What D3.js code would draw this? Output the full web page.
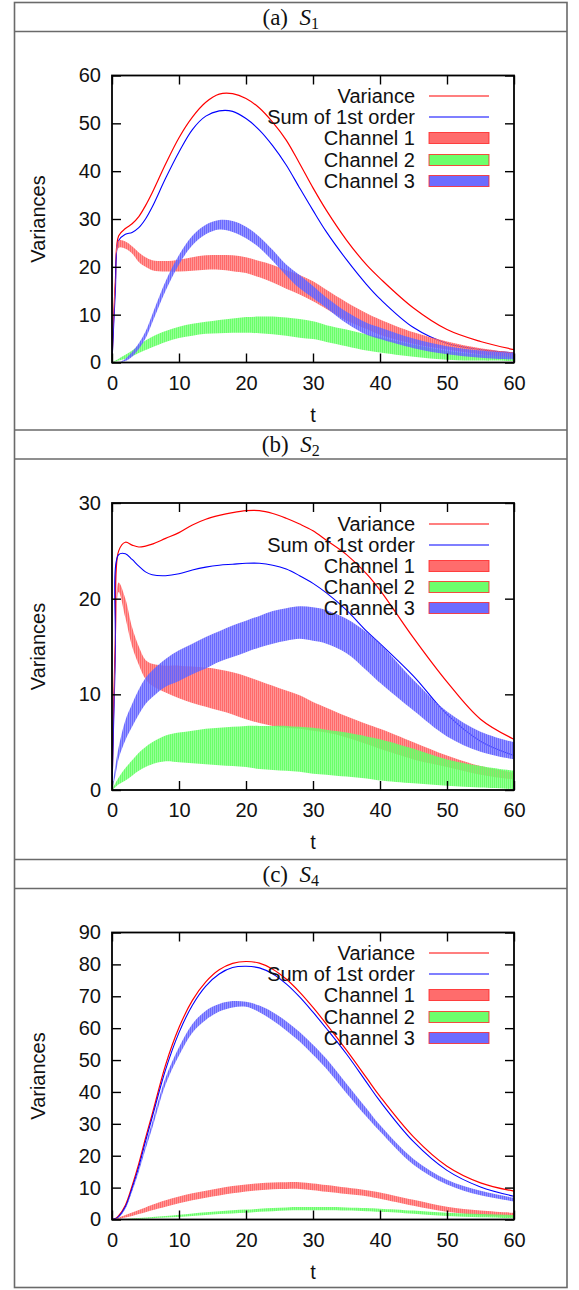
<!DOCTYPE html>
<html>
<head>
<meta charset="utf-8">
<script src="https://cdn.jsdelivr.net/npm/d3@7"></script>
<style>
  body { margin: 0; background: #fff; }
  svg { display: block; }
  .tick text { font-family: "Liberation Sans", Arial, sans-serif; font-size: 20px; fill: #111; }
</style>
</head>
<body>
<svg id="chart" width="579" height="1290"></svg>
<script>
// Time samples shared by all three panels
const tValues = [0, 0.5, 1, 2, 3, 4, 5, 6, 8, 10, 12, 14, 16, 18, 20, 22, 24, 26, 28, 30, 32, 35, 38, 40, 45, 50, 55, 60];

// (a) S1
const varianceA = [0, 17, 26.5, 28, 29, 30.5, 32.8, 35.5, 41.5, 47, 51.3, 54.4, 56.1, 56.2, 55.2, 53.2, 50.2, 46.5, 41.6, 36.5, 31.8, 25.6, 20.4, 17.6, 11.4, 6.9, 4.4, 2.7];
const sumA = [0, 15, 25.5, 26.8, 27.2, 28.2, 30, 32.5, 38.5, 44, 48.7, 51.5, 52.6, 52.5, 51, 48.6, 45.3, 41.3, 36.5, 31.8, 27.3, 21.5, 16.3, 13.3, 7.3, 4.0, 2.7, 2.0];
const ch1HiA = [0, 18, 25.5, 25.3, 24.3, 23, 22, 21.4, 21.2, 21.5, 22, 22.4, 22.5, 22.4, 22, 21.2, 20.4, 19.3, 18.3, 17, 15.2, 12.6, 10.3, 9, 6.3, 4.4, 3, 2.1];
const ch1LoA = [0, 15, 24, 23.8, 22.8, 21, 20, 19.3, 19, 19, 19.2, 19.4, 19.4, 19.1, 18.7, 17.8, 16.7, 15.4, 14.2, 12.8, 11.2, 8.8, 7, 5.8, 3.9, 2.7, 1.7, 1.0];
const ch2HiA = [0, 0.4, 0.8, 1.6, 2.5, 3.6, 4.6, 5.4, 6.6, 7.5, 8.1, 8.5, 8.9, 9.2, 9.5, 9.6, 9.6, 9.4, 9.1, 8.6, 7.8, 6.9, 5.9, 5.3, 3.7, 2.4, 1.6, 1.2];
const ch2LoA = [0, 0.2, 0.4, 0.8, 1.3, 2.0, 2.6, 3.2, 4.3, 5.1, 5.6, 6.0, 6.1, 6.2, 6.2, 6.1, 5.9, 5.6, 5.2, 4.9, 4.3, 3.4, 2.5, 2.1, 1.2, 0.6, 0.4, 0.3];
const ch3HiA = [0, 0, 0, 0.8, 2.2, 4, 6.5, 10, 17, 22.5, 26.5, 28.8, 29.8, 29.6, 28.4, 26.3, 23.5, 20.5, 18.3, 16, 13.6, 10.6, 8.3, 7.3, 5, 3.4, 2.5, 2.0];
const ch3LoA = [0, 0, 0, 0.3, 1.2, 2.8, 5, 8.3, 15, 20.5, 24.5, 26.8, 27.8, 27.3, 26, 24, 21.2, 18.2, 15.5, 13.5, 11.4, 8.2, 5.8, 4.9, 3, 1.7, 1, 0.6];

// (b) S2
const varianceB = [0, 16, 25, 25.9, 25.6, 25.4, 25.5, 25.7, 26.3, 26.9, 27.7, 28.3, 28.7, 29, 29.2, 29.2, 28.9, 28.4, 27.8, 27.1, 26.1, 24.6, 22.6, 20.9, 15.9, 11.3, 7.4, 5.3];
const sumB = [0, 14, 24.6, 24.7, 24.1, 23.4, 22.8, 22.5, 22.4, 22.6, 23, 23.3, 23.5, 23.6, 23.7, 23.7, 23.5, 23.1, 22.4, 21.6, 20.6, 18.8, 16.6, 15.3, 11.9, 7.9, 5.1, 3.6];
const ch1HiB = [0, 15, 21.7, 20, 17, 15, 13.6, 13.2, 13, 13, 12.9, 12.8, 12.6, 12.3, 11.9, 11.4, 10.9, 10.4, 9.9, 9.2, 8.6, 7.7, 6.9, 6.4, 5.0, 3.6, 2.5, 1.8];
const ch1LoB = [0, 13, 20.7, 18, 15, 13.1, 11.6, 10.9, 10.2, 9.6, 9.1, 8.7, 8.3, 7.9, 7.4, 7.0, 6.7, 6.5, 6.4, 6.2, 6.0, 5.5, 4.8, 4.3, 3.2, 2.4, 1.6, 1.1];
const ch2HiB = [0, 0.7, 1.3, 2.3, 3.1, 3.9, 4.5, 5.0, 5.7, 6.0, 6.2, 6.4, 6.5, 6.6, 6.7, 6.7, 6.7, 6.7, 6.6, 6.5, 6.3, 6.0, 5.6, 5.3, 4.3, 3.2, 2.5, 2.0];
const ch2LoB = [0, 0.3, 0.6, 1.0, 1.5, 2.0, 2.4, 2.7, 3.0, 2.9, 2.8, 2.7, 2.6, 2.5, 2.4, 2.2, 2.1, 2.0, 1.9, 1.7, 1.6, 1.4, 1.2, 1.0, 0.7, 0.45, 0.25, 0.1];
const ch3HiB = [0, 2.5, 4.5, 7.3, 9, 10.5, 11.7, 12.5, 13.7, 14.6, 15.3, 16, 16.6, 17.2, 17.7, 18.2, 18.7, 19, 19.2, 19.1, 18.8, 17.9, 16.5, 15.3, 11.5, 8.2, 6.1, 5.0];
const ch3LoB = [0, 1.5, 3.3, 5.2, 6.6, 7.9, 9, 9.7, 10.8, 11.4, 12.1, 12.7, 13.4, 13.9, 14.4, 14.9, 15.3, 15.6, 15.8, 15.6, 15.3, 14.3, 12.5, 11.2, 8.3, 5.6, 4.0, 3.2];

// (c) S4
const varianceC = [0, 0.3, 1.2, 4.5, 10.5, 17.5, 25.5, 33, 48.5, 60.2, 68.7, 74.5, 78.3, 80.3, 80.9, 80.4, 78.5, 75.4, 71.3, 66.5, 61.3, 53.1, 44.4, 38.6, 25.9, 16.7, 11.5, 8.9];
const sumC = [0, 0.2, 0.9, 4, 9.8, 16.5, 24.5, 32, 47, 58.6, 67.2, 73.2, 77, 79, 79.4, 78.9, 77, 73.9, 69.8, 65, 59.9, 51.9, 43, 37.1, 24.4, 15.4, 10.2, 7.3];
const ch1HiC = [0, 0.2, 0.6, 1.4, 2.2, 3.0, 3.8, 4.6, 6.0, 7.2, 8.2, 9.0, 9.8, 10.5, 11, 11.4, 11.6, 11.7, 11.7, 11.3, 10.8, 10, 9.2, 8.5, 6.2, 4.0, 2.8, 2.1];
const ch1LoC = [0, 0, 0.2, 0.6, 1.1, 1.7, 2.3, 2.9, 4.0, 5.1, 6.0, 6.8, 7.5, 8.2, 8.8, 9.2, 9.5, 9.6, 9.6, 9.2, 8.7, 8, 7.3, 6.5, 4.3, 2.4, 1.3, 0.7];
const ch2HiC = [0, 0, 0.05, 0.15, 0.3, 0.45, 0.6, 0.8, 1.1, 1.5, 1.9, 2.3, 2.6, 2.9, 3.1, 3.4, 3.6, 3.8, 3.9, 3.9, 3.9, 3.8, 3.6, 3.4, 2.8, 2.1, 1.7, 1.4];
const ch2LoC = [0, 0, 0, 0.05, 0.1, 0.2, 0.3, 0.4, 0.6, 0.8, 1.1, 1.4, 1.7, 1.9, 2.1, 2.4, 2.6, 2.8, 2.9, 2.9, 2.9, 2.8, 2.6, 2.4, 1.8, 1.1, 0.7, 0.4];
const ch3HiC = [0, 0.2, 0.8, 3.8, 9.5, 16, 23.5, 30.5, 44.5, 54, 61.3, 65.5, 67.6, 68.5, 68.3, 67.1, 65, 62.2, 58.8, 54.8, 50.4, 42.6, 34.8, 29.6, 19, 12.5, 9.0, 6.8];
const ch3LoC = [0, 0.1, 0.6, 3.4, 8.8, 15, 22, 28.6, 42.3, 51.4, 58.6, 62.6, 65.2, 66.5, 66.7, 65, 62.4, 59.3, 55.8, 51.7, 47.3, 39.6, 32.2, 27.6, 17.2, 11, 7.6, 5.7];

const panelLetters = ['a', 'b', 'c'];
const panelSubscripts = ['1', '2', '4'];
const yMaxes = [60, 30, 90];
const xTicks = [0, 10, 20, 30, 40, 50, 60];
const legendLabels = ['Variance', 'Sum of 1st order', 'Channel 1', 'Channel 2', 'Channel 3'];

// Build per-panel series from the arrays above
const panels = [
  { variance: varianceA, sum: sumA, bands: [[ch1LoA, ch1HiA], [ch2LoA, ch2HiA], [ch3LoA, ch3HiA]] },
  { variance: varianceB, sum: sumB, bands: [[ch1LoB, ch1HiB], [ch2LoB, ch2HiB], [ch3LoB, ch3HiB]] },
  { variance: varianceC, sum: sumC, bands: [[ch1LoC, ch1HiC], [ch2LoC, ch2HiC], [ch3LoC, ch3HiC]] },
];

const bandColors = ['#ff6464', '#64ff64', '#6464ff'];
const font = '"Liberation Sans", Arial, sans-serif';

const svg = d3.select('#chart');

// Table frame
const tableLeft = 14.5, tableRight = 567, tableTop = 2.5, tableBottom = 1287.5;
const headerTops = [2.5, 430, 859.5];
const headerH = 29;

svg.append('rect')
  .attr('x', tableLeft).attr('y', tableTop)
  .attr('width', tableRight - tableLeft).attr('height', tableBottom - tableTop)
  .attr('fill', 'none').attr('stroke', '#6a6a6a').attr('stroke-width', 1.6);

headerTops.forEach((top, i) => {
  [top, top + headerH].forEach(y => {
    if (y > tableTop + 1) {
      svg.append('line')
        .attr('x1', tableLeft).attr('x2', tableRight)
        .attr('y1', y).attr('y2', y)
        .attr('stroke', '#6a6a6a').attr('stroke-width', 1.6);
    }
  });

  // Caption "(a) S1" in LaTeX style
  const cap = svg.append('text')
    .attr('x', (tableLeft + tableRight) / 2)
    .attr('y', top + 22)
    .attr('text-anchor', 'middle')
    .attr('font-family', '"Liberation Serif", "DejaVu Serif", serif')
    .attr('font-size', 23)
    .attr('fill', '#111');
  cap.append('tspan').text('(' + panelLetters[i] + ')\u2002');
  cap.append('tspan').attr('font-style', 'italic').text('S');
  cap.append('tspan').attr('font-size', 16).attr('dy', 4).text(panelSubscripts[i]);
});

// Stripe patterns to mimic the dense vertical error bars
const defs = svg.append('defs');
bandColors.forEach((c, i) => {
  const p = defs.append('pattern')
    .attr('id', 'stripe' + i)
    .attr('patternUnits', 'userSpaceOnUse')
    .attr('width', 2).attr('height', 6);
  p.append('rect').attr('width', 2).attr('height', 6).attr('fill', c).attr('fill-opacity', 0.62);
  p.append('rect').attr('width', 1.2).attr('height', 6).attr('fill', c).attr('fill-opacity', 0.9);
});

const plotLeft = 112, plotRight = 514, plotH = 287;
const x = d3.scaleLinear().domain([0, 60]).range([plotLeft, plotRight]);
const curve = d3.curveCatmullRom.alpha(0.5);

panels.forEach((panel, pi) => {
  const plotTop = headerTops[pi] + headerH + 44;
  const plotBottom = plotTop + plotH;
  const yMax = yMaxes[pi];
  const y = d3.scaleLinear().domain([0, yMax]).range([plotBottom, plotTop]);
  const yTicks = d3.range(0, yMax + 1, 10);

  const g = svg.append('g');

  defs.append('clipPath').attr('id', 'clip' + pi)
    .append('rect')
      .attr('x', plotLeft).attr('y', plotTop)
      .attr('width', plotRight - plotLeft).attr('height', plotH);

  const plot = g.append('g').attr('clip-path', `url(#clip${pi})`);

  const line = d3.line()
    .x((d, i) => x(tValues[i]))
    .y(d => y(d))
    .curve(curve);

  // Lines first, bands drawn over them (gnuplot plotting order)
  plot.append('path')
    .attr('d', line(panel.variance))
    .attr('fill', 'none').attr('stroke', '#ff0000').attr('stroke-width', 1.2);
  plot.append('path')
    .attr('d', line(panel.sum))
    .attr('fill', 'none').attr('stroke', '#0000ff').attr('stroke-width', 1.1);

  panel.bands.forEach((band, bi) => {
    const [lo, hi] = band;
    const area = d3.area()
      .x((d, i) => x(tValues[i]))
      .y0((d, i) => y(lo[i]))
      .y1((d, i) => y(hi[i]))
      .curve(curve);
    plot.append('path')
      .attr('d', area(lo))
      .attr('fill', `url(#stripe${bi})`);
  });

  // Axes with inward ticks on all four sides
  const tickLen = 9;
  g.append('g')
    .attr('transform', `translate(${plotLeft},0)`)
    .call(d3.axisLeft(y).tickValues(yTicks).tickSize(-tickLen).tickPadding(11));
  g.append('g')
    .attr('transform', `translate(0,${plotBottom})`)
    .call(d3.axisBottom(x).tickValues(xTicks).tickSize(-tickLen).tickPadding(13));
  g.append('g')
    .attr('transform', `translate(${plotRight},0)`)
    .call(d3.axisRight(y).tickValues(yTicks).tickSize(-tickLen).tickFormat(''));
  g.append('g')
    .attr('transform', `translate(0,${plotTop})`)
    .call(d3.axisTop(x).tickValues(xTicks).tickSize(-tickLen).tickFormat(''));

  g.selectAll('.domain').remove();
  g.selectAll('.tick line').attr('stroke', '#000').attr('stroke-width', 1.4);

  g.append('rect')
    .attr('x', plotLeft).attr('y', plotTop)
    .attr('width', plotRight - plotLeft).attr('height', plotH)
    .attr('fill', 'none').attr('stroke', '#000').attr('stroke-width', 1.8);

  // Axis titles
  g.append('text')
    .attr('transform', `translate(45,${(plotTop + plotBottom) / 2}) rotate(-90)`)
    .attr('text-anchor', 'middle')
    .attr('font-family', font).attr('font-size', 20).attr('fill', '#111')
    .text('Variances');
  g.append('text')
    .attr('x', (plotLeft + plotRight) / 2).attr('y', plotBottom + 59)
    .attr('text-anchor', 'middle')
    .attr('font-family', font).attr('font-size', 20).attr('fill', '#111')
    .text('t');

  // Legend
  const legend = g.append('g');
  legendLabels.forEach((label, li) => {
    const cy = Math.round(plotTop + 20.5 + li * 21.2);
    legend.append('text')
      .attr('x', 415).attr('y', cy).attr('dy', '0.36em')
      .attr('text-anchor', 'end')
      .attr('font-family', font).attr('font-size', 20).attr('fill', '#111')
      .text(label);
    if (li < 2) {
      legend.append('line')
        .attr('x1', 429).attr('x2', 489)
        .attr('y1', cy).attr('y2', cy)
        .attr('stroke', li === 0 ? '#ff0000' : '#0000ff').attr('stroke-width', 1.2);
    } else {
      legend.append('rect')
        .attr('x', 429).attr('y', cy - 5.5)
        .attr('width', 60).attr('height', 11)
        .attr('fill', bandColors[li - 2]).attr('fill-opacity', 0.95)
        .attr('stroke', '#ff2020').attr('stroke-opacity', 0.8).attr('stroke-width', 1);
    }
  });
});
</script>
</body>
</html>
